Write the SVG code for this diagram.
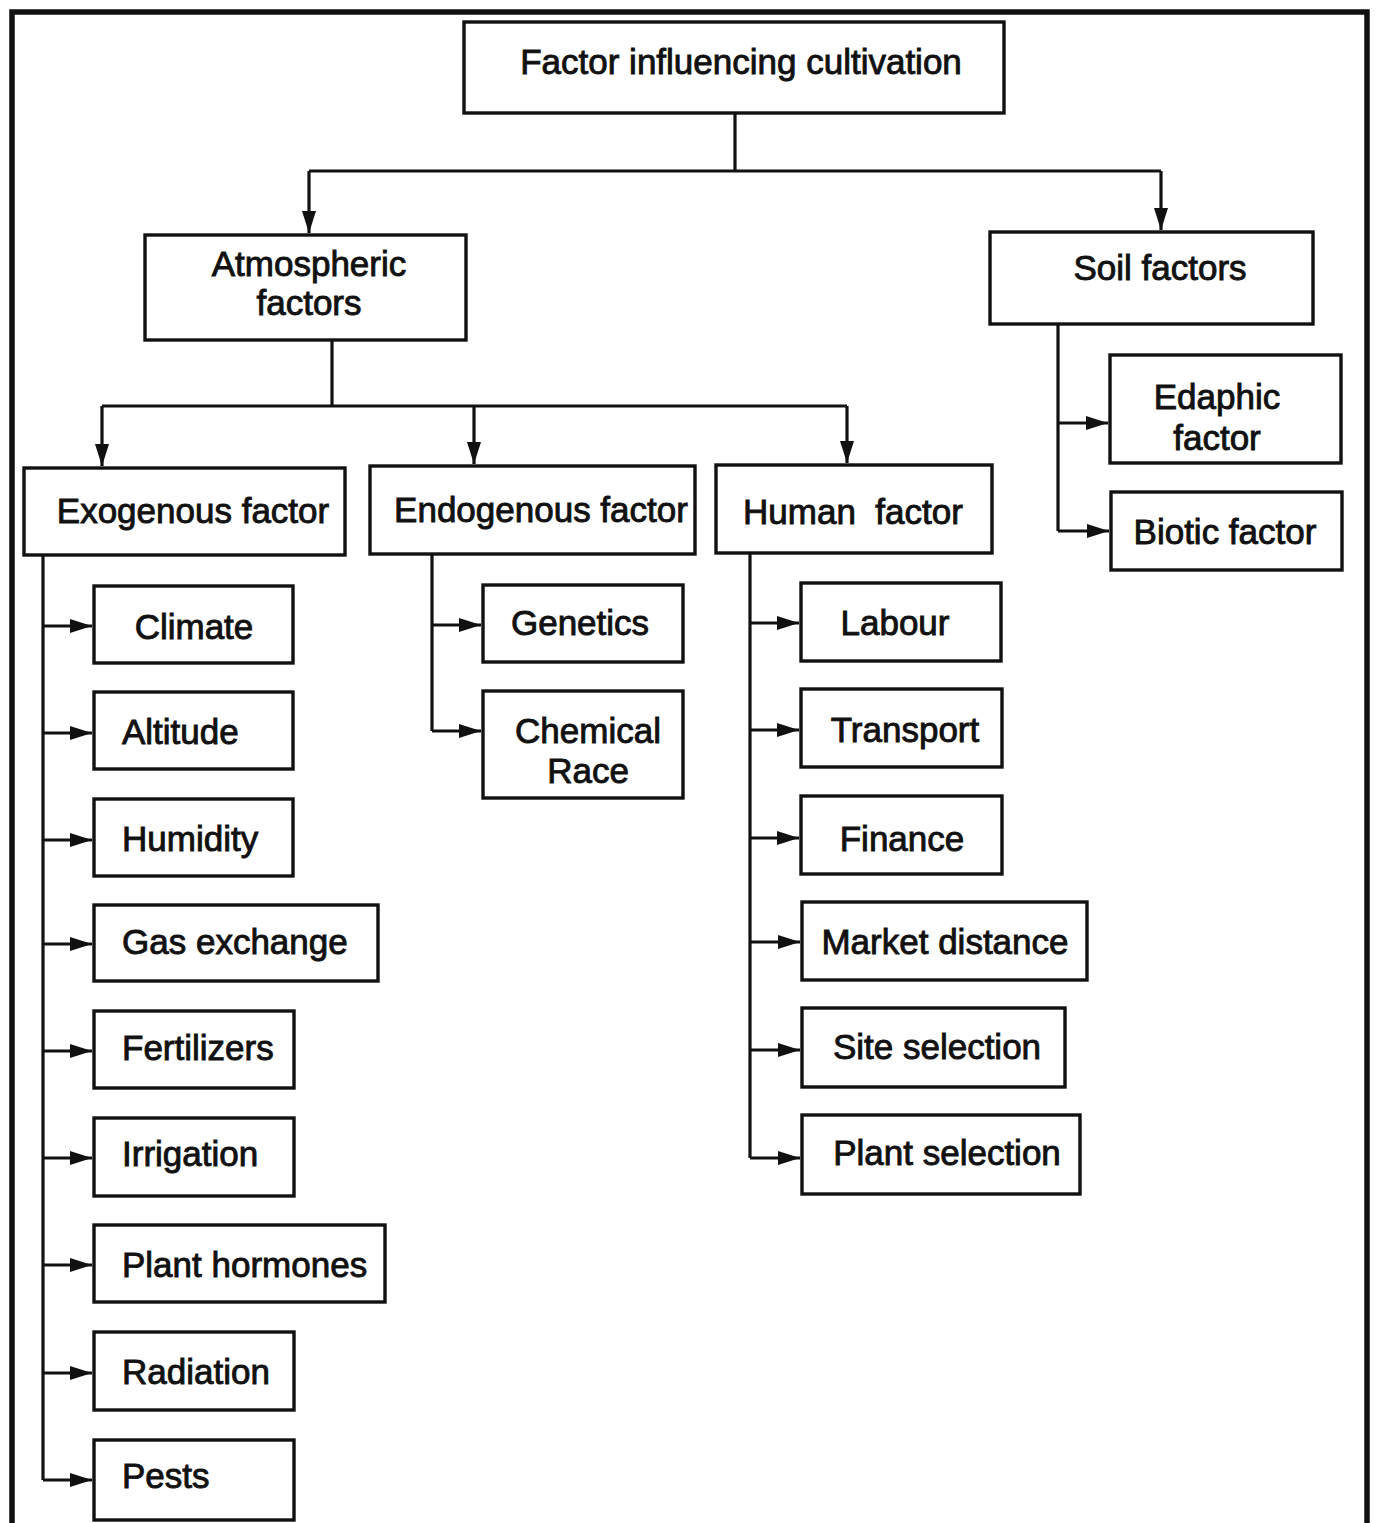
<svg xmlns="http://www.w3.org/2000/svg" width="1376" height="1523" viewBox="0 0 1376 1523">
<style>
.box{fill:#fff;stroke:#111;stroke-width:3.4}
.t{font-family:"Liberation Sans",Arial,sans-serif;font-size:35px;fill:#111;stroke:#111;stroke-width:0.9;dominant-baseline:central}
.c{text-anchor:middle}
.ln{fill:none;stroke:#111;stroke-width:3.2}
.frame{fill:none;stroke:#111;stroke-width:5.5}
</style>
<defs>
<marker id="ah" markerUnits="userSpaceOnUse" markerWidth="24" markerHeight="18" refX="22" refY="9" orient="auto">
<path d="M0,2 L22,9 L0,16 Z" fill="#111"/>
</marker>
</defs>
<rect width="1376" height="1523" fill="#fff"/>
<path class="frame" d="M12,1523 V12 H1367 V1523"/>

<g id="connectors">
<path class="ln" d="M735,113 V171 M309,171 H1161"/>
<path class="ln" d="M309,171 V233" marker-end="url(#ah)"/>
<path class="ln" d="M1161,171 V230" marker-end="url(#ah)"/>
<path class="ln" d="M332,340 V406 M102,406 H847"/>
<path class="ln" d="M102,406 V466" marker-end="url(#ah)"/>
<path class="ln" d="M474,406 V464" marker-end="url(#ah)"/>
<path class="ln" d="M847,406 V463" marker-end="url(#ah)"/>
<path class="ln" d="M1058,324 V531"/>
<path class="ln" d="M1058,423 H1108" marker-end="url(#ah)"/>
<path class="ln" d="M1058,531 H1109" marker-end="url(#ah)"/>
<path class="ln" d="M43,555 V1480"/>
<path class="ln" d="M43,626 H92" marker-end="url(#ah)"/>
<path class="ln" d="M43,733 H92" marker-end="url(#ah)"/>
<path class="ln" d="M43,840 H92" marker-end="url(#ah)"/>
<path class="ln" d="M43,944 H92" marker-end="url(#ah)"/>
<path class="ln" d="M43,1051 H92" marker-end="url(#ah)"/>
<path class="ln" d="M43,1158 H92" marker-end="url(#ah)"/>
<path class="ln" d="M43,1265 H92" marker-end="url(#ah)"/>
<path class="ln" d="M43,1373 H92" marker-end="url(#ah)"/>
<path class="ln" d="M43,1480 H92" marker-end="url(#ah)"/>
<path class="ln" d="M432,554 V731"/>
<path class="ln" d="M432,625 H481" marker-end="url(#ah)"/>
<path class="ln" d="M432,731 H481" marker-end="url(#ah)"/>
<path class="ln" d="M750,553 V1158"/>
<path class="ln" d="M750,623 H799" marker-end="url(#ah)"/>
<path class="ln" d="M750,730 H799" marker-end="url(#ah)"/>
<path class="ln" d="M750,838 H799" marker-end="url(#ah)"/>
<path class="ln" d="M750,942 H800" marker-end="url(#ah)"/>
<path class="ln" d="M750,1050 H800" marker-end="url(#ah)"/>
<path class="ln" d="M750,1158 H800" marker-end="url(#ah)"/>
</g>

<g id="root"><rect class="box" x="464" y="22" width="540" height="91"/><text class="t c" x="741" y="61">Factor influencing cultivation</text></g>
<g id="atmospheric"><rect class="box" x="145" y="235" width="321" height="105"/><text class="t c" x="309" y="263">Atmospheric</text><text class="t c" x="309" y="302">factors</text></g>
<g id="soil"><rect class="box" x="990" y="232" width="323" height="92"/><text class="t c" x="1160" y="267">Soil factors</text></g>
<g id="exogenous"><rect class="box" x="24" y="468" width="321" height="87"/><text class="t c" x="193" y="510">Exogenous factor</text></g>
<g id="endogenous"><rect class="box" x="370" y="466" width="325" height="88"/><text class="t c" x="541" y="509">Endogenous factor</text></g>
<g id="human"><rect class="box" x="716" y="465" width="276" height="88"/><text class="t c" x="853" y="511" xml:space="preserve">Human  factor</text></g>
<g id="edaphic"><rect class="box" x="1110" y="355" width="231" height="108"/><text class="t c" x="1217" y="396">Edaphic</text><text class="t c" x="1217" y="437">factor</text></g>
<g id="biotic"><rect class="box" x="1111" y="492" width="231" height="78"/><text class="t c" x="1225" y="531">Biotic factor</text></g>

<g id="climate"><rect class="box" x="94" y="586" width="199" height="77"/><text class="t c" x="194" y="626">Climate</text></g>
<g id="altitude"><rect class="box" x="94" y="692" width="199" height="77"/><text class="t" x="122" y="731">Altitude</text></g>
<g id="humidity"><rect class="box" x="94" y="799" width="199" height="77"/><text class="t" x="122" y="838">Humidity</text></g>
<g id="gas-exchange"><rect class="box" x="94" y="905" width="284" height="76"/><text class="t" x="122" y="941">Gas exchange</text></g>
<g id="fertilizers"><rect class="box" x="94" y="1011" width="200" height="77"/><text class="t" x="122" y="1047">Fertilizers</text></g>
<g id="irrigation"><rect class="box" x="94" y="1118" width="200" height="78"/><text class="t" x="122" y="1153">Irrigation</text></g>
<g id="plant-hormones"><rect class="box" x="94" y="1225" width="291" height="77"/><text class="t" x="122" y="1264">Plant hormones</text></g>
<g id="radiation"><rect class="box" x="94" y="1332" width="200" height="78"/><text class="t" x="122" y="1371">Radiation</text></g>
<g id="pests"><rect class="box" x="94" y="1440" width="200" height="80"/><text class="t" x="122" y="1475">Pests</text></g>

<g id="genetics"><rect class="box" x="483" y="585" width="200" height="77"/><text class="t c" x="580" y="622">Genetics</text></g>
<g id="chemical-race"><rect class="box" x="483" y="691" width="200" height="107"/><text class="t c" x="588" y="730">Chemical</text><text class="t c" x="588" y="770">Race</text></g>

<g id="labour"><rect class="box" x="801" y="583" width="200" height="78"/><text class="t c" x="895" y="622">Labour</text></g>
<g id="transport"><rect class="box" x="801" y="689" width="201" height="78"/><text class="t c" x="905" y="729">Transport</text></g>
<g id="finance"><rect class="box" x="801" y="796" width="201" height="78"/><text class="t c" x="902" y="838">Finance</text></g>
<g id="market-distance"><rect class="box" x="802" y="902" width="285" height="78"/><text class="t c" x="945" y="941">Market distance</text></g>
<g id="site-selection"><rect class="box" x="802" y="1008" width="263" height="79"/><text class="t c" x="937" y="1046">Site selection</text></g>
<g id="plant-selection"><rect class="box" x="802" y="1115" width="278" height="79"/><text class="t c" x="947" y="1152">Plant selection</text></g>
</svg>
